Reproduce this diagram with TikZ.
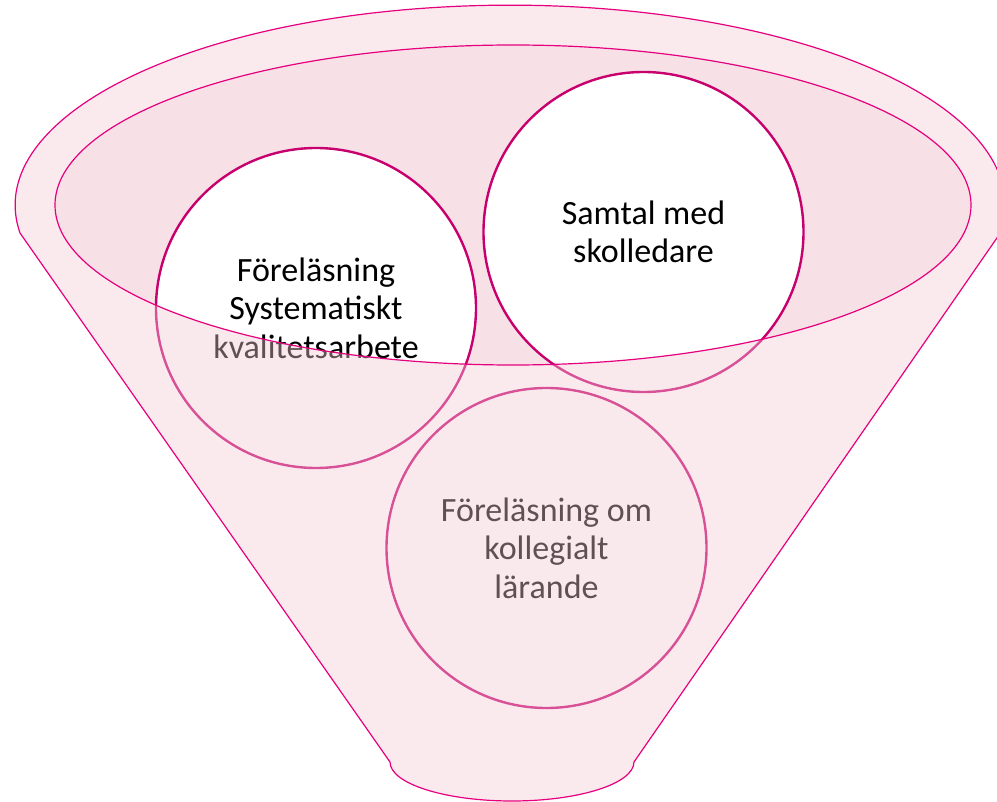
\documentclass[tikz,border=0pt]{standalone}
\usepackage{fontspec}
\setmainfont{Carlito}
\usepackage{tikz}

\definecolor{funnelline}{RGB}{230,0,126}
\definecolor{ringline}{RGB}{200,0,110}
\definecolor{openfill}{RGB}{247,225,231}
\definecolor{bodyfill}{RGB}{242,202,212}

\begin{document}
\begin{tikzpicture}[x=1pt,y=1pt,yscale=-1,xscale=1,
		stage/.style={circle, draw=ringline, line width=2.4pt, fill=white, minimum size=320pt, inner sep=0pt, align=center, font=\fontsize{34}{38.5}\selectfont},
		rim/.style={draw=funnelline, line width=1.2pt}]
		\clip (0,0) rectangle (997,802);
		
		%Shape: Ellipse [opening of the funnel]
		\fill [openfill] (513,205) ellipse [x radius=458, y radius=160];
		
		% Circle Node
		\node [stage] (lecture) at (316,308) {Föreläsning\\Systematiskt\\kvalitetsarbete};
		% Circle Node
		\node [stage] (talk) at (643.5,232) {Samtal med\\skolledare};
		% Circle Node
		\node [stage] (peer) at (546.5,548) {Föreläsning om\\kollegialt\\lärande};
		
		%Shape: Funnel body, drawn over the circles
		\draw [rim, fill=bodyfill, fill opacity=0.4, even odd rule]
			(20,233) arc [start angle=172, end angle=368, x radius=495, y radius=200]
			-- (634,762) arc [start angle=0, end angle=180, x radius=122, y radius=39] -- cycle
			(513,205) ellipse [x radius=458, y radius=160];
	\end{tikzpicture}
\end{document}
